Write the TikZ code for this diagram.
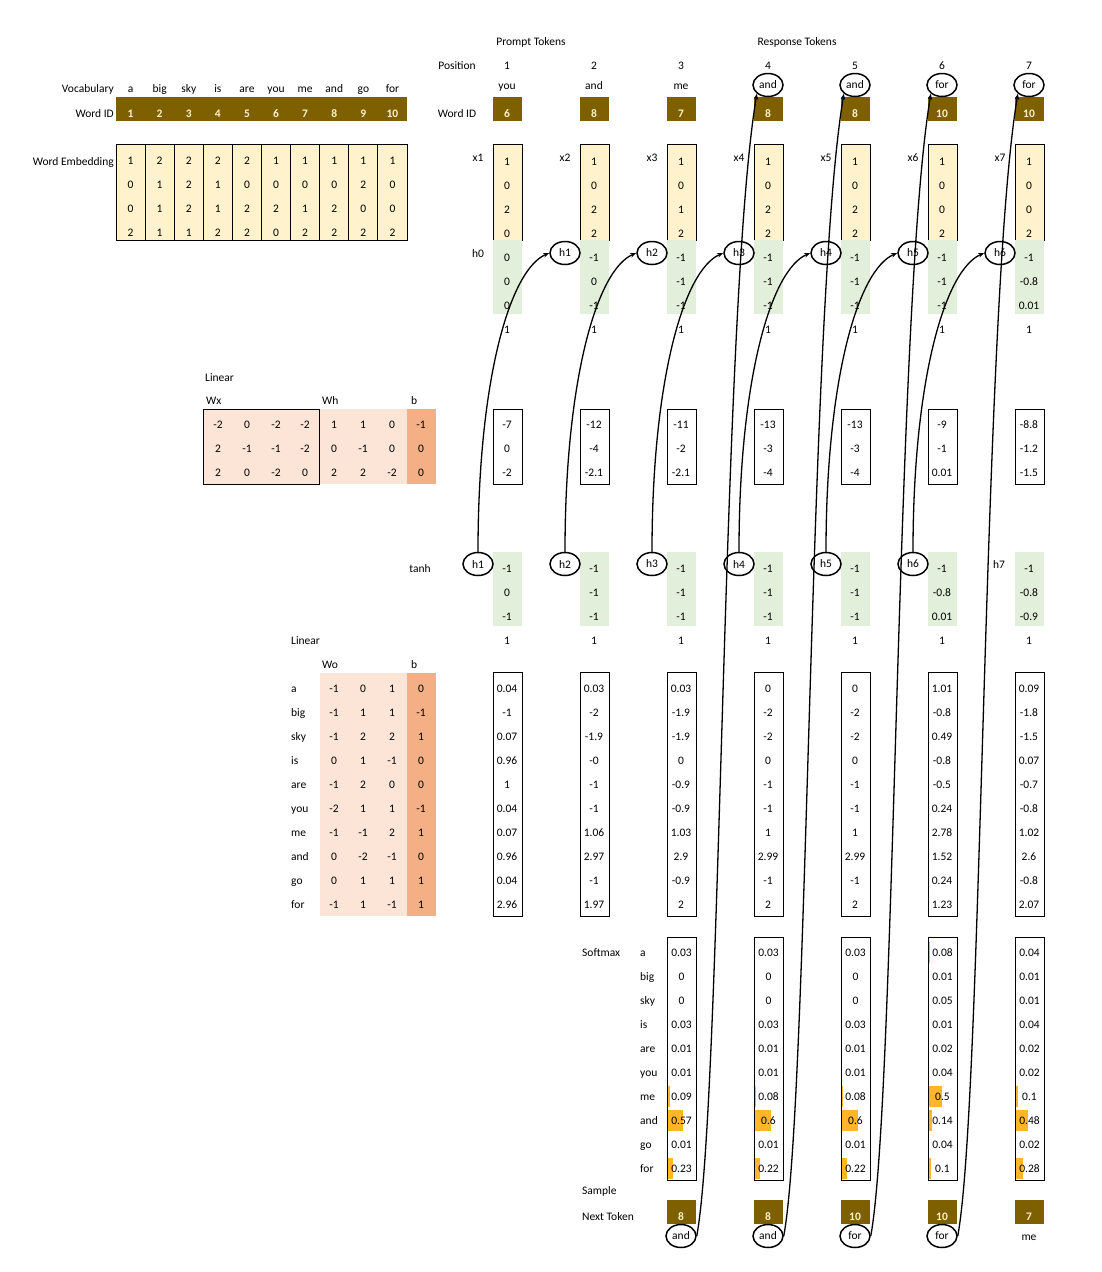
\documentclass[tikz,border=0pt]{standalone}
\usepackage{fontspec}
\setmainfont{Carlito}
\usetikzlibrary{positioning, arrows.meta, shapes.geometric}
\definecolor{idbrown}{RGB}{127, 96, 0}
\definecolor{idtext}{RGB}{255, 242, 204}
\definecolor{embyellow}{RGB}{255, 242, 204}
\definecolor{hidgreen}{RGB}{226, 239, 218}
\definecolor{wlight}{RGB}{252, 228, 214}
\definecolor{bdark}{RGB}{244, 176, 132}
\definecolor{barorange}{RGB}{255, 182, 40}

\begin{document}
\begin{tikzpicture}[x=1pt, y=-1pt, >={Stealth[length=6pt, width=4.5pt]},
    val/.style={anchor=base, inner sep=0pt, font=\fontsize{11.5}{13}\selectfont},
    lbl/.style={val, anchor=base west},
    rlbl/.style={val, anchor=base east},
    idval/.style={val, text=idtext, font=\fontsize{11.5}{13}\selectfont\bfseries},
    ring/.style={draw, ellipse, line width=1.5pt, minimum width=30pt, minimum height=23pt,
                 inner sep=0pt, font=\fontsize{11.5}{13}\selectfont},
    box/.style={draw, line width=0.9pt},
    link/.style={->, line width=1.3pt}]
\useasboundingbox (0,0) rectangle (1102,1272);

% vocabulary and embedding table
\node[rlbl] (vocab) at (114,92) {Vocabulary};
\node[rlbl] (vocabid) at (114,117) {Word ID};
\node[rlbl] (wordemb) at (114,165) {Word Embedding};
\fill[idbrown] (116,97) rectangle (407,121);
\foreach \w [count=\i] in {a,big,sky,is,are,you,me,and,go,for} {
    \node[val] (voc-\i) at ({116+29.1*(\i-0.5)},92) {\w};
    \node[idval] (vid-\i) at ({116+29.1*(\i-0.5)},117) {\i};
}
\draw[box, fill=embyellow] (116,144) rectangle (407,240);
\foreach \i in {1,...,9}
    \draw[line width=0.9pt] ({116+29.1*\i},144) -- ({116+29.1*\i},240);
\foreach \row [count=\r] in {{1,2,2,2,2,1,1,1,1,1},{0,1,2,1,0,0,0,0,2,0},{0,1,2,1,2,2,1,2,0,0},{2,1,1,2,2,0,2,2,2,2}}
    \foreach \v [count=\i] in \row
        \node[val] (emb-\r-\i) at ({116+29.1*(\i-0.5)},{144+24*\r-3.5}) {\v};

% token header
\node[val] (prompt) at (531,45) {Prompt Tokens};
\node[val] (response) at (797,45) {Response Tokens};
\node[val] (position) at (457,69) {Position};
\node[val] (tokid) at (457,117) {Word ID};
\foreach \id [count=\k] in {6,8,7,8,8,10,10} {
    \node[val] (pos-\k) at ({507+87*(\k-1)},69) {\k};
    \fill[idbrown] ({493+87*(\k-1)},97) rectangle ({522+87*(\k-1)},121);
    \node[idval] (tid-\k) at ({507+87*(\k-1)},117) {\id};
}
\foreach \w [count=\k] in {you,and,me}
    \node[val] (tok-\k) at ({507+87*(\k-1)},89) {\w};
\foreach \w [count=\j, evaluate=\j as \k using int(\j+3)] in {and,and,for,for}
    \node[ring] (tok-\k) at ({507+87*(\k-1)},85) {\w};

% input vectors x and previous hidden state
\node[val] (h0) at (478,257) {h0};
\foreach \vals [count=\k] in {{1,0,2,0},{1,0,2,2},{1,0,1,2},{1,0,2,2},{1,0,2,2},{1,0,0,2},{1,0,0,2}} {
    \draw[box, fill=embyellow] ({493+87*(\k-1)},144) rectangle ({522+87*(\k-1)},240);
    \node[val] (xl-\k) at ({478+87*(\k-1)},161) {x\k};
    \foreach \v [count=\r] in \vals
        \node[val] (x-\k-\r) at ({507+87*(\k-1)},{165+24*(\r-1)}) {\v};
    \node[val] (one-\k) at ({507+87*(\k-1)},333) {1};
}
\foreach \vals [count=\k] in {{0,0,0},{-1,0,-1},{-1,-1,-1},{-1,-1,-1},{-1,-1,-1},{-1,-1,-1},{-1,-0.8,0.01}} {
    \fill[hidgreen] ({493+87*(\k-1)},240) rectangle ({522+87*(\k-1)},314);
    \foreach \v [count=\r] in \vals
        \node[val] (hp-\k-\r) at ({507+87*(\k-1)},{261+24*(\r-1)}) {\v};
}
\foreach \k in {1,...,6}
    \node[ring] (hin-\k) at ({565+87*(\k-1)},253) {h\k};

% recurrent linear layer
\node[lbl] (linear1) at (205,381) {Linear};
\node[lbl] (wx) at (206,404) {Wx};
\node[lbl] (wh) at (322,404) {Wh};
\node[lbl] (b1) at (411,404) {b};
\fill[wlight] (203,409) rectangle (407,484);
\fill[bdark] (407,409) rectangle (436,484);
\draw[box] (203,409) rectangle (319.5,484);
\foreach \row [count=\r] in {{-2,0,-2,-2,1,1,0,-1},{2,-1,-1,-2,0,-1,0,0},{2,0,-2,0,2,2,-2,0}}
    \foreach \v [count=\i] in \row
        \node[val] (wr-\r-\i) at ({218+29*(\i-1)},{428+24*(\r-1)}) {\v};
\foreach \vals [count=\k] in {{-7,0,-2},{-12,-4,-2.1},{-11,-2,-2.1},{-13,-3,-4},{-13,-3,-4},{-9,-1,0.01},{-8.8,-1.2,-1.5}} {
    \draw[box] ({493+87*(\k-1)},409) rectangle ({522+87*(\k-1)},484);
    \foreach \v [count=\r] in \vals
        \node[val] (pre-\k-\r) at ({507+87*(\k-1)},{428+24*(\r-1)}) {\v};
}

% tanh
\node[val] (tanh) at (420,572) {tanh};
\foreach \vals [count=\k] in {{-1,0,-1},{-1,-1,-1},{-1,-1,-1},{-1,-1,-1},{-1,-1,-1},{-1,-0.8,0.01},{-1,-0.8,-0.9}} {
    \fill[hidgreen] ({493+87*(\k-1)},552) rectangle ({522+87*(\k-1)},626);
    \foreach \v [count=\r] in \vals
        \node[val] (h-\k-\r) at ({507+87*(\k-1)},{572+24*(\r-1)}) {\v};
    \node[val] (onb-\k) at ({507+87*(\k-1)},644) {1};
}
\foreach \k in {1,...,6}
    \node[ring] (hout-\k) at ({478+87*(\k-1)},564) {h\k};
\node[val] (hout-7) at (999,568) {h7};

% output linear layer
\node[lbl] (linear2) at (291,644) {Linear};
\node[lbl] (wo) at (322,668) {Wo};
\node[lbl] (b2) at (411,668) {b};
\fill[wlight] (319.5,673) rectangle (407,916);
\fill[bdark] (407,673) rectangle (436,916);
\foreach \w/\row [count=\r] in {a/{-1,0,1,0},big/{-1,1,1,-1},sky/{-1,2,2,1},is/{0,1,-1,0},are/{-1,2,0,0},you/{-2,1,1,-1},me/{-1,-1,2,1},and/{0,-2,-1,0},go/{0,1,1,1},for/{-1,1,-1,1}} {
    \node[lbl] (wol-\r) at (291,{692+24*(\r-1)}) {\w};
    \foreach \v [count=\i] in \row
        \node[val] (wo-\r-\i) at ({334+29*(\i-1)},{692+24*(\r-1)}) {\v};
}
\foreach \vals [count=\k] in {{0.04,-1,0.07,0.96,1,0.04,0.07,0.96,0.04,2.96},
        {0.03,-2,-1.9,-0,-1,-1,1.06,2.97,-1,1.97},
        {0.03,-1.9,-1.9,0,-0.9,-0.9,1.03,2.9,-0.9,2},
        {0,-2,-2,0,-1,-1,1,2.99,-1,2},
        {0,-2,-2,0,-1,-1,1,2.99,-1,2},
        {1.01,-0.8,0.49,-0.8,-0.5,0.24,2.78,1.52,0.24,1.23},
        {0.09,-1.8,-1.5,0.07,-0.7,-0.8,1.02,2.6,-0.8,2.07}} {
    \draw[box] ({493+87*(\k-1)},672) rectangle ({522+87*(\k-1)},916);
    \foreach \v [count=\r] in \vals
        \node[val] (lg-\k-\r) at ({507+87*(\k-1)},{692+24*(\r-1)}) {\v};
}

% softmax
\node[lbl] (softmax) at (582,956) {Softmax};
\foreach \w [count=\r] in {a,big,sky,is,are,you,me,and,go,for}
    \node[lbl] (sml-\r) at (640,{956+24*(\r-1)}) {\w};
\foreach \vals [count=\j, evaluate=\j as \bx using 667+87*(\j-1)] in {{0.03,0,0,0.03,0.01,0.01,0.09,0.57,0.01,0.23},
        {0.03,0,0,0.03,0.01,0.01,0.08,0.6,0.01,0.22},
        {0.03,0,0,0.03,0.01,0.01,0.08,0.6,0.01,0.22},
        {0.08,0.01,0.05,0.01,0.02,0.04,0.5,0.14,0.04,0.1},
        {0.04,0.01,0.01,0.04,0.02,0.02,0.1,0.48,0.02,0.28}} {
    \foreach \v [count=\r] in \vals
        \fill[barorange] (\bx,{942+24*(\r-1)}) rectangle ({\bx+28*\v},{963+24*(\r-1)});
    \draw[box] (\bx,937) rectangle ({\bx+29},1180);
    \foreach \v [count=\r] in \vals
        \node[val] (sm-\j-\r) at ({\bx+14.5},{956+24*(\r-1)}) {\v};
}

% sampling
\node[lbl] (sample) at (582,1194) {Sample};
\node[lbl] (nexttok) at (582,1220) {Next Token};
\foreach \id [count=\j, evaluate=\j as \k using int(\j+2)] in {8,8,10,10,7} {
    \fill[idbrown] ({493+87*(\k-1)},1200) rectangle ({522+87*(\k-1)},1224);
    \node[idval] (nid-\k) at ({507+87*(\k-1)},1220) {\id};
}
\foreach \w [count=\j, evaluate=\j as \k using int(\j+2)] in {and,and,for,for}
    \node[ring] (nxt-\k) at ({507+87*(\k-1)},1236) {\w};
\node[val] (nxt-7) at (1029,1240) {me};

% recurrent links
\foreach \k in {1,...,6}
    \draw[link] (hout-\k.north) .. controls +(0,-170) and +(-40,17) .. (hin-\k.west);
% sampled token fed back
\foreach \k [evaluate=\k as \n using int(\k+1)] in {3,...,6}
    \draw[link] (nxt-\k.east) .. controls +(25,-136) and +(-35,210) .. (tok-\n.south west);
\end{tikzpicture}
\end{document}
